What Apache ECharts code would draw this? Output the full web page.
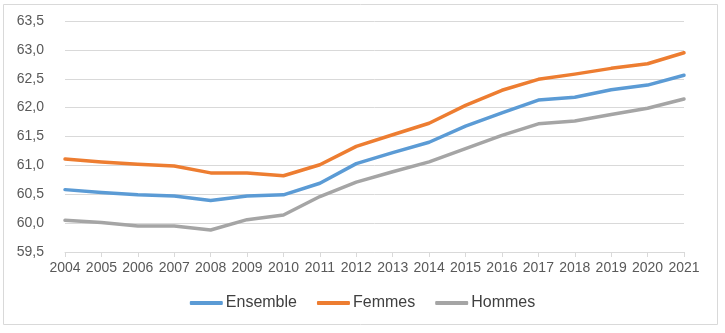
<!DOCTYPE html>
<html><head><meta charset="utf-8">
<script src="https://cdn.jsdelivr.net/npm/echarts@6/dist/echarts.min.js"></script>
<style>html,body{margin:0;padding:0;background:#fff}#c{width:725px;height:333px}</style>
</head><body><div id="c"></div>
<script>
var years = ['2004','2005','2006','2007','2008','2009','2010','2011','2012','2013','2014','2015','2016','2017','2018','2019','2020','2021'];
var ensemble = [60.58,60.53,60.49,60.47,60.39,60.47,60.49,60.69,61.03,61.22,61.40,61.68,61.91,62.13,62.18,62.31,62.39,62.56];
var femmes   = [61.11,61.06,61.02,60.99,60.87,60.87,60.82,61.01,61.33,61.53,61.73,62.04,62.30,62.49,62.58,62.68,62.76,62.95];
var hommes   = [60.05,60.01,59.95,59.95,59.88,60.06,60.14,60.46,60.71,60.89,61.06,61.29,61.52,61.72,61.77,61.88,61.99,62.15];
var seriesNames = ['Ensemble','Femmes','Hommes'];
var colors = ['#5B9BD5','#ED7D31','#A5A5A5'];

var chart = echarts.init(document.getElementById('c'), null, {renderer:'canvas'});
var font = 'Liberation Sans, Arial, sans-serif';
function mk(name, data, color){
  return {name:name, type:'line', data:data, symbol:'none', smooth:false,
    lineStyle:{color:color, width:3.5, cap:'round', join:'round'}, itemStyle:{color:color}};
}
chart.setOption({
  animation:false,
  graphic:[{type:'rect', shape:{x:3.5,y:4.5,width:714,height:320}, style:{fill:'none', stroke:'#D9D9D9', lineWidth:1}, z:-1}],
  grid:{left:65, right:41, top:21, bottom:81, containLabel:false},
  legend:{data:seriesNames, bottom:17, left:'center', itemWidth:33, itemHeight:4, itemGap:20, icon:'roundRect',
    textStyle:{fontFamily:font, fontSize:16, color:'#404040', padding:[0,0,0,-2]}},
  xAxis:{type:'category', data:years, boundaryGap:false,
    axisLine:{lineStyle:{color:'#D9D9D9', width:1}},
    axisTick:{show:true, length:5, interval:0, lineStyle:{color:'#D9D9D9'}},
    axisLabel:{fontFamily:font, fontSize:14, color:'#595959', margin:9, interval:0, hideOverlap:false}},
  yAxis:{type:'value', min:59.5, max:63.5, interval:0.5,
    axisLine:{show:false}, axisTick:{show:false},
    splitLine:{lineStyle:{color:'#D9D9D9', width:1}},
    axisLabel:{fontFamily:font, fontSize:14, color:'#595959', margin:21,
      formatter:function(v){return v.toFixed(1).replace('.',',');}}},
  series:[mk('Ensemble',ensemble,colors[0]), mk('Femmes',femmes,colors[1]), mk('Hommes',hommes,colors[2])]
});
</script></body></html>
